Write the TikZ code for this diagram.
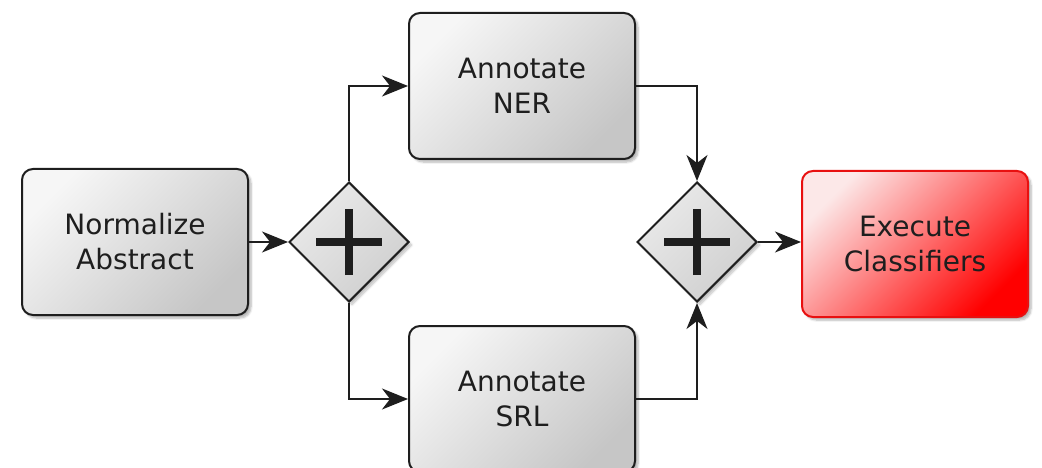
\documentclass[tikz,border=0pt]{standalone}
\usepackage{fontspec}
\setmainfont{DejaVu Sans}
\usetikzlibrary{shapes.geometric,arrows.meta,shadows.blur}

\definecolor{ink}{HTML}{1E1E1E}
\definecolor{boxlight}{HTML}{F6F6F6}
\definecolor{boxdark}{HTML}{C6C6C6}
\definecolor{gatelight}{HTML}{EAEAEA}
\definecolor{gatedark}{HTML}{CFCFCF}
\definecolor{execlight}{HTML}{FCE8E8}
\definecolor{execdark}{HTML}{FF0000}
\definecolor{execedge}{HTML}{E81010}

\tikzset{
  task/.style={
    draw=ink, line width=2pt, rounded corners=11pt,
    minimum width=226pt, minimum height=146pt,
    align=center, text=ink, inner sep=0pt,
    font=\fontsize{28}{35}\selectfont,
    top color=boxlight, bottom color=boxdark, shading angle=45,
    blur shadow={shadow xshift=3pt, shadow yshift=-3pt,
                 shadow blur steps=6, shadow opacity=30}
  },
  hottask/.style={task, draw=execedge,
    top color=execlight, bottom color=execdark, shading angle=45},
  parallel/.style={
    diamond, aspect=1, draw=ink, line width=2pt,
    minimum width=120pt, minimum height=120pt, inner sep=0pt,
    top color=gatelight, bottom color=gatedark, shading angle=45,
    blur shadow={shadow xshift=3pt, shadow yshift=-3pt,
                 shadow blur steps=6, shadow opacity=25},
    path picture={
      \draw[ink, line width=8pt]
        ([xshift=-33pt]path picture bounding box.center) --
        ([xshift=33pt]path picture bounding box.center)
        ([yshift=-33pt]path picture bounding box.center) --
        ([yshift=33pt]path picture bounding box.center);
    }
  },
  flow/.style={draw=ink, line width=2pt,
    -{Stealth[length=26pt, width=21pt, inset=8pt]}}
}

\begin{document}
\begin{tikzpicture}[x=1pt, y=-1pt]
  \useasboundingbox (0,0) rectangle (1042,468);

  \node[task] (norm) at (135,242) {Normalize\\Abstract};
  \node[parallel] (split) at (349,242) {};
  \node[task] (ner) at (522,86) {Annotate\\NER};
  \node[task] (srl) at (522,399) {Annotate\\SRL};
  \node[parallel] (join) at (697,242) {};
  \node[hottask] (exec) at (915,244) {Execute\\Classifiers};

  \draw[flow] (norm.east) -- (split.west);
  \draw[flow] (split.north) |- (ner.west);
  \draw[flow] (split.south) |- (srl.west);
  \draw[flow] (ner.east) -| (join.north);
  \draw[flow] (srl.east) -| (join.south);
  \draw[flow] (join.east) -- (exec.west |- join.east);
\end{tikzpicture}
\end{document}
